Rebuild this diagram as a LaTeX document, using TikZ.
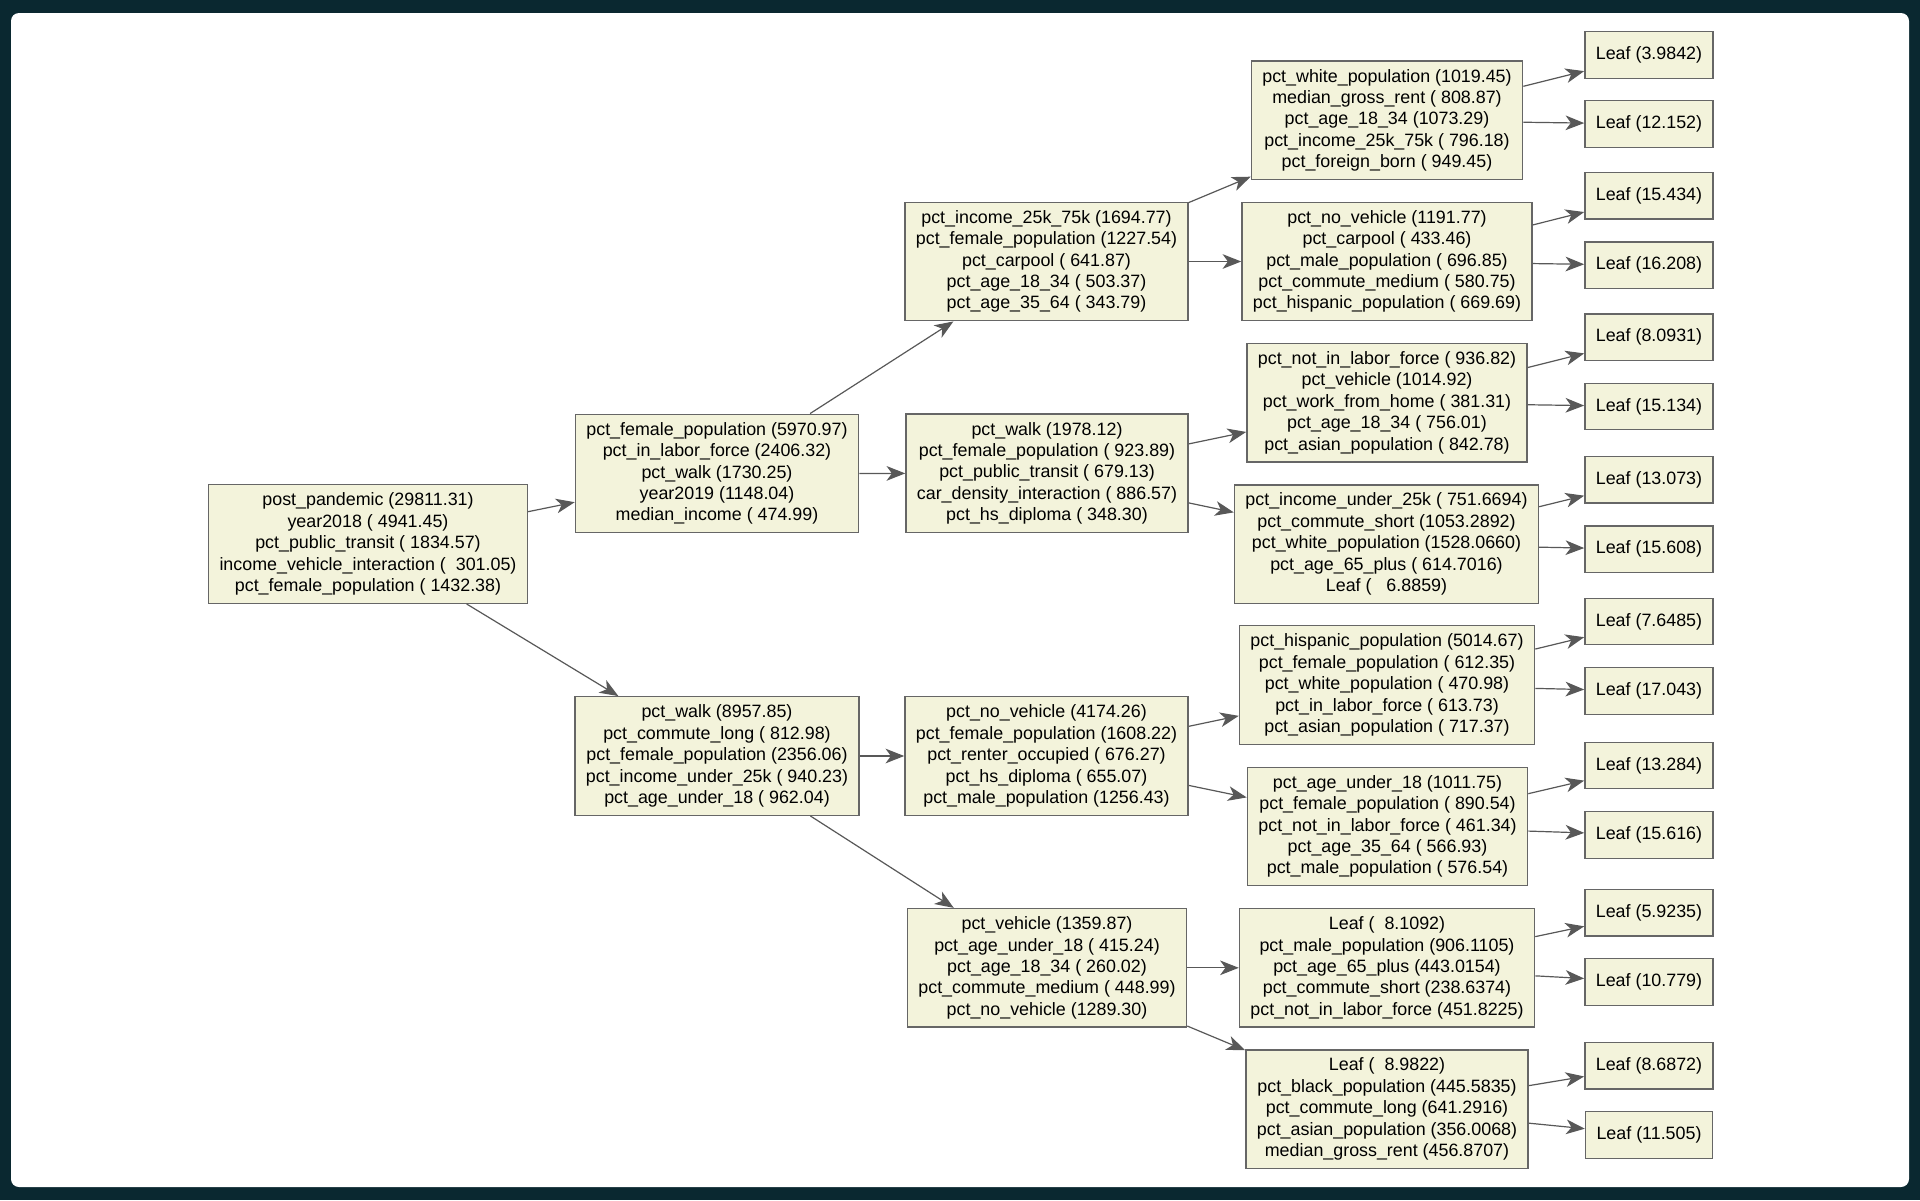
\documentclass[tikz,border=0pt]{standalone}
\usepackage{fontspec}
\setmainfont{Liberation Sans}
\usepackage{tikz}
\usetikzlibrary{arrows.meta}
\definecolor{framebg}{HTML}{0A2830}
\definecolor{boxfill}{HTML}{F3F3DB}
\definecolor{boxline}{HTML}{666666}
\definecolor{edgegray}{HTML}{585858}

\begin{document}
\begin{tikzpicture}[x=0.75pt, y=-0.75pt, font=\fontsize{13.4}{16.07}\selectfont]
    % Estilos
    \tikzstyle{block} = [rectangle, draw=boxline, line width=1pt, fill=boxfill, align=center, inner xsep=8.25pt, inner ysep=2pt, minimum height=88.9pt]
    \tikzstyle{leaf} = [rectangle, draw=boxline, line width=1pt, fill=boxfill, inner xsep=8.25pt, minimum height=34.9pt]
    \tikzstyle{line} = [draw=edgegray, line width=0.9pt, -{Stealth[length=14pt, width=11pt, inset=4pt]}]

    % Fundo
    \fill[framebg] (0,0) rectangle (1920,1200);
    \fill[white, rounded corners=6pt] (11,13) rectangle (1909,1187);
    \useasboundingbox (0,0) rectangle (1920,1200);

    % Nós
    \node [block] (root) at (368,544) {post\_pandemic (29811.31)\\year2018 ( 4941.45)\\pct\_public\_transit ( 1834.57)\\income\_vehicle\_interaction (\ \ 301.05)\\pct\_female\_population ( 1432.38)};

    \node [block] (n1a) at (717,473.5) {pct\_female\_population (5970.97)\\pct\_in\_labor\_force (2406.32)\\pct\_walk (1730.25)\\year2019 (1148.04)\\median\_income ( 474.99)};
    \node [block] (n1b) at (717,756) {pct\_walk (8957.85)\\pct\_commute\_long ( 812.98)\\pct\_female\_population (2356.06)\\pct\_income\_under\_25k ( 940.23)\\pct\_age\_under\_18 ( 962.04)};

    \node [block] (n2a) at (1046.5,261.5) {pct\_income\_25k\_75k (1694.77)\\pct\_female\_population (1227.54)\\pct\_carpool ( 641.87)\\pct\_age\_18\_34 ( 503.37)\\pct\_age\_35\_64 ( 343.79)};
    \node [block] (n2b) at (1047,473.3) {pct\_walk (1978.12)\\pct\_female\_population ( 923.89)\\pct\_public\_transit ( 679.13)\\car\_density\_interaction ( 886.57)\\pct\_hs\_diploma ( 348.30)};
    \node [block] (n2c) at (1046.5,756) {pct\_no\_vehicle (4174.26)\\pct\_female\_population (1608.22)\\pct\_renter\_occupied ( 676.27)\\pct\_hs\_diploma ( 655.07)\\pct\_male\_population (1256.43)};
    \node [block] (n2d) at (1047,967.8) {pct\_vehicle (1359.87)\\pct\_age\_under\_18 ( 415.24)\\pct\_age\_18\_34 ( 260.02)\\pct\_commute\_medium ( 448.99)\\pct\_no\_vehicle (1289.30)};

    \node [block] (n3a) at (1387,120.3) {pct\_white\_population (1019.45)\\median\_gross\_rent ( 808.87)\\pct\_age\_18\_34 (1073.29)\\pct\_income\_25k\_75k ( 796.18)\\pct\_foreign\_born ( 949.45)};
    \node [block] (n3b) at (1387,261.5) {pct\_no\_vehicle (1191.77)\\pct\_carpool ( 433.46)\\pct\_male\_population ( 696.85)\\pct\_commute\_medium ( 580.75)\\pct\_hispanic\_population ( 669.69)};
    \node [block] (n3c) at (1387,402.7) {pct\_not\_in\_labor\_force ( 936.82)\\pct\_vehicle (1014.92)\\pct\_work\_from\_home ( 381.31)\\pct\_age\_18\_34 ( 756.01)\\pct\_asian\_population ( 842.78)};
    \node [block] (n3d) at (1386.5,544.2) {pct\_income\_under\_25k ( 751.6694)\\pct\_commute\_short (1053.2892)\\pct\_white\_population (1528.0660)\\pct\_age\_65\_plus ( 614.7016)\\Leaf (\ \ \ 6.8859)};
    \node [block] (n3e) at (1387,685) {pct\_hispanic\_population (5014.67)\\pct\_female\_population ( 612.35)\\pct\_white\_population ( 470.98)\\pct\_in\_labor\_force ( 613.73)\\pct\_asian\_population ( 717.37)};
    \node [block] (n3f) at (1387.5,826.5) {pct\_age\_under\_18 (1011.75)\\pct\_female\_population ( 890.54)\\pct\_not\_in\_labor\_force ( 461.34)\\pct\_age\_35\_64 ( 566.93)\\pct\_male\_population ( 576.54)};
    \node [block] (n3g) at (1387,967.8) {Leaf (\ \ 8.1092)\\pct\_male\_population (906.1105)\\pct\_age\_65\_plus (443.0154)\\pct\_commute\_short (238.6374)\\pct\_not\_in\_labor\_force (451.8225)};
    \node [block] (n3h) at (1387,1109.2) {Leaf (\ \ 8.9822)\\pct\_black\_population (445.5835)\\pct\_commute\_long (641.2916)\\pct\_asian\_population (356.0068)\\median\_gross\_rent (456.8707)};

    \node [leaf] (leaf1) at (1649,55) {Leaf (3.9842)};
    \node [leaf] (leaf2) at (1649,124) {Leaf (12.152)};
    \node [leaf] (leaf3) at (1649,195.8) {Leaf (15.434)};
    \node [leaf] (leaf4) at (1649,265.2) {Leaf (16.208)};
    \node [leaf] (leaf5) at (1649,337.2) {Leaf (8.0931)};
    \node [leaf] (leaf6) at (1649,406.5) {Leaf (15.134)};
    \node [leaf] (leaf7) at (1649,479.8) {Leaf (13.073)};
    \node [leaf] (leaf8) at (1649,549.3) {Leaf (15.608)};
    \node [leaf] (leaf9) at (1649,621.5) {Leaf (7.6485)};
    \node [leaf] (leaf10) at (1649,691) {Leaf (17.043)};
    \node [leaf] (leaf11) at (1649,765.5) {Leaf (13.284)};
    \node [leaf] (leaf12) at (1649,835) {Leaf (15.616)};
    \node [leaf] (leaf13) at (1649,912.7) {Leaf (5.9235)};
    \node [leaf] (leaf14) at (1649,982) {Leaf (10.779)};
    \node [leaf] (leaf15) at (1649,1065.7) {Leaf (8.6872)};
    \node [leaf] (leaf16) at (1649,1135) {Leaf (11.505)};

    % Conexões
    \path [line] (root) -- (n1a);
    \path [line] (root) -- (n1b);
    \path [line] (n1a) -- (n2a);
    \path [line] (n1a) -- (n2b);
    \path [line] (n1b) -- (n2c);
    \path [line] (n1b) -- (n2d);
    \path [line] (n2a) -- (n3a);
    \path [line] (n2a) -- (n3b);
    \path [line] (n2b) -- (n3c);
    \path [line] (n2b) -- (n3d);
    \path [line] (n2c) -- (n3e);
    \path [line] (n2c) -- (n3f);
    \path [line] (n2d) -- (n3g);
    \path [line] (n2d) -- (n3h);
    \path [line] (n3a) -- (leaf1);
    \path [line] (n3a) -- (leaf2);
    \path [line] (n3b) -- (leaf3);
    \path [line] (n3b) -- (leaf4);
    \path [line] (n3c) -- (leaf5);
    \path [line] (n3c) -- (leaf6);
    \path [line] (n3d) -- (leaf7);
    \path [line] (n3d) -- (leaf8);
    \path [line] (n3e) -- (leaf9);
    \path [line] (n3e) -- (leaf10);
    \path [line] (n3f) -- (leaf11);
    \path [line] (n3f) -- (leaf12);
    \path [line] (n3g) -- (leaf13);
    \path [line] (n3g) -- (leaf14);
    \path [line] (n3h) -- (leaf15);
    \path [line] (n3h) -- (leaf16);
\end{tikzpicture}
\end{document}
